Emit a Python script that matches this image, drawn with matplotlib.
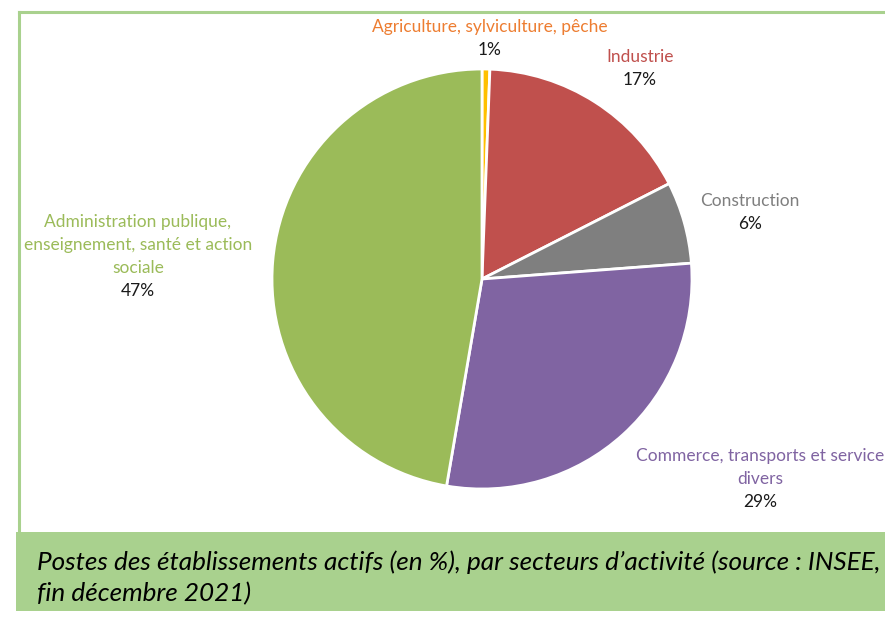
import matplotlib.pyplot as plt
from matplotlib.patches import Rectangle
from matplotlib.lines import Line2D

# data (clockwise from 12 o'clock)
secteurs = ["Agriculture, sylviculture, pêche", "Industrie", "Construction",
            "Commerce, transports et service\ndivers",
            "Administration publique,\nenseignement, santé et action\nsociale"]
parts = [0.6, 16.9, 6.3, 28.9, 47.3]
couleurs = ["#FFC000", "#C0504D", "#7F7F7F", "#8064A2", "#9BBB59"]
couleurs_texte = ["#ED7D31", "#C0504D", "#7F7F7F", "#8064A2", "#9BBB59"]
legende = ["Postes des établissements actifs (en %), par secteurs d\u2019activité (source : INSEE,",
           "fin décembre 2021)"]

W, H = 885, 617
plt.rcParams['font.family'] = ['Lato', 'DejaVu Sans']

fig = plt.figure(figsize=(W / 100, H / 100), dpi=100)
fig.patch.set_facecolor("white")

def fx(x):
    return x / W

def fy(y):
    return 1 - y / H

# pie axes : center (482, 279), radius 210 px
cx, cy, r = 482, 279, 210
ax = fig.add_axes([fx(cx - r), fy(cy + r), 2 * r / W, 2 * r / H])
ax.pie(parts, colors=couleurs, startangle=90, counterclock=False,
       wedgeprops=dict(edgecolor="white", linewidth=2))
ax.set_xlim(-1, 1)
ax.set_ylim(-1, 1)
ax.set_aspect("equal")
ax.axis("off")

# label positions (pixel, centre of first line) - layout only
pos = [(490, 27), (640, 57), (750, 201), (760, 456), (138, 222)]
lh = 23
for nom, v, c, (x, y) in zip(secteurs, parts, couleurs_texte, pos):
    lignes = nom.split("\n")
    for i, l in enumerate(lignes):
        fig.text(fx(x), fy(y + i * lh), l, color=c, fontsize=12.5,
                 ha="center", va="center")
    fig.text(fx(x), fy(y + len(lignes) * lh), f"{round(v)}%", color="#1a1a1a",
             fontsize=12.5, ha="center", va="center")

# light green frame around the chart
vert = "#A9D18E"
fig.add_artist(Line2D([fx(19), fx(19)], [fy(12), fy(532)], color=vert, lw=2.2))
fig.add_artist(Line2D([fx(19), 1], [fy(12), fy(12)], color=vert, lw=2.2))

# caption box
fig.add_artist(Rectangle((fx(16), fy(611)), 1 - fx(16), (611 - 532) / H,
                         facecolor=vert, edgecolor="none"))
for i, l in enumerate(legende):
    fig.text(fx(37), fy(562 + i * 32), l, fontsize=18.8, style="italic",
             color="black", ha="left", va="center")

fig.savefig("out.png", dpi=100)
